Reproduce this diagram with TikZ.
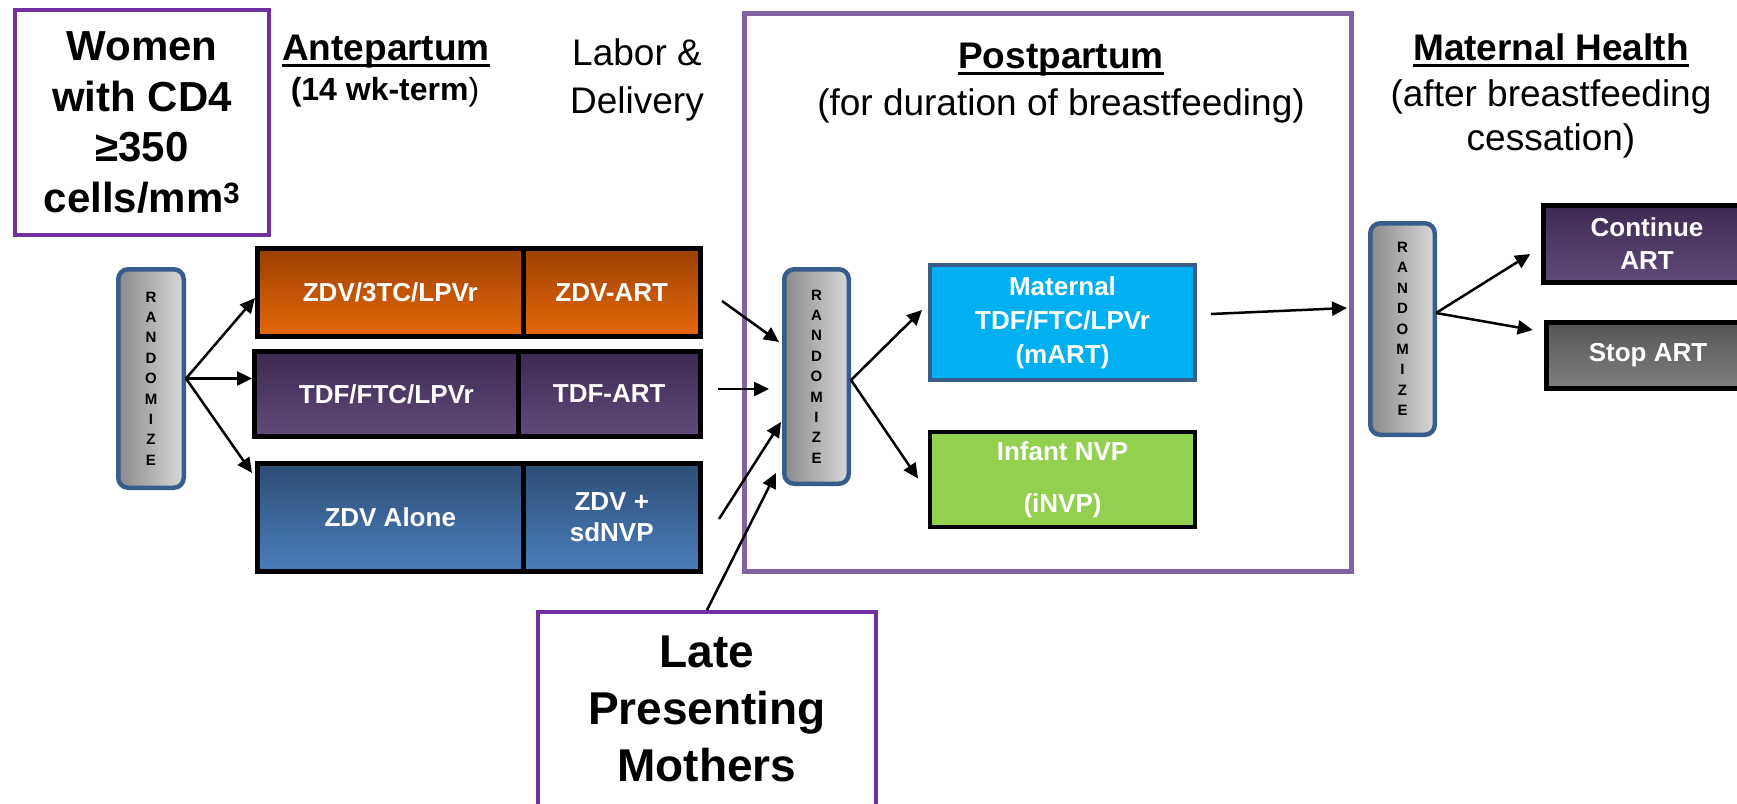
\documentclass[tikz,border=0pt]{standalone}
\usepackage{fontspec}
\setmainfont{Liberation Sans}
\usetikzlibrary{arrows.meta,calc}
\definecolor{womenpurple}{HTML}{7030A0}
\definecolor{pppurple}{HTML}{8064A2}
\definecolor{randblue}{HTML}{385D8A}
\definecolor{orangetop}{HTML}{9A3F00}
\definecolor{orangebot}{HTML}{E8690A}
\definecolor{purtop}{HTML}{3D2A52}
\definecolor{purbot}{HTML}{604A7B}
\definecolor{bluetop}{HTML}{2C4D75}
\definecolor{bluebot}{HTML}{4A7EBC}
\definecolor{cyanfill}{HTML}{00B0F0}
\definecolor{greenfill}{HTML}{92D050}
\definecolor{graytop}{HTML}{555555}
\definecolor{graybot}{HTML}{808080}
\definecolor{randL}{HTML}{8A8A8A}
\definecolor{randR}{HTML}{D8D8D8}
\newcommand\hdrul[1]{\setbox0\hbox{#1}\rlap{\rule[-6.5pt]{\wd0}{2.6pt}}\box0}
\begin{document}
\begin{tikzpicture}[x=1pt,y=-1pt,
  every node/.style={inner sep=0pt},
  rnd/.style={draw=randblue, line width=4.5pt, rounded corners=10pt,
    left color=randL, right color=randR, text=black, align=center,
    font=\fontsize{15}{20.4}\selectfont\bfseries},
  cell/.style={draw=black, line width=5pt, text=white, align=center,
    font=\fontsize{26}{31}\selectfont\bfseries},
  orangecell/.style={cell, top color=orangetop, bottom color=orangebot},
  purplecell/.style={cell, top color=purtop, bottom color=purbot},
  bluecell/.style={cell, top color=bluetop, bottom color=bluebot},
  framebox/.style={draw=womenpurple, line width=4pt, fill=white},
  hdr/.style={font=\fontsize{37}{41}\selectfont\bfseries},
  sub/.style={font=\fontsize{37}{41}\selectfont, align=center},
  arr/.style={-{Triangle[length=15pt,width=14pt]}, line width=2.5pt, black}]
\useasboundingbox[fill=white] (0,0) rectangle (1737,803);

% postpartum frame
\node[draw=pppurple, line width=5pt, minimum width=607pt, minimum height=558pt] (pp) at (1048,292.5) {};

% women box
\node[framebox, minimum width=254pt, minimum height=225pt, align=center,
  font=\fontsize{42}{50.7}\selectfont\bfseries] (women) at (142,122.5)
  {Women\\with CD4\\≥350\\cells/mm\textsuperscript{3}};

% headers
\node[hdr, anchor=base] (ante) at (386,60) {\hdrul{Antepartum}};
\node[anchor=base, font=\fontsize{32}{36}\selectfont] (antesub) at (385,100) {\textbf{(14 wk-term}\mdseries)};
\node[sub, font=\fontsize{37}{48}\selectfont] (labor) at (637,80) {Labor \&\\Delivery};
\node[hdr, anchor=base] (post) at (1061,68) {\hdrul{Postpartum}};
\node[sub, anchor=base] (postsub) at (1061,115) {(for duration of breastfeeding)};
\node[hdr, anchor=base] (mh) at (1551,60) {\hdrul{Maternal Health}};
\node[sub, font=\fontsize{37}{44}\selectfont] (mhsub) at (1551,119) {(after breastfeeding\\cessation)};

% randomize nodes
\node[rnd, minimum width=65.5pt, minimum height=218.5pt] (R1) at (151,378.5) {R\\A\\N\\D\\O\\M\\I\\Z\\E};
\node[rnd, minimum width=64.5pt, minimum height=214.5pt] (R2) at (816.5,376.5) {R\\A\\N\\D\\O\\M\\I\\Z\\E};
\node[rnd, minimum width=64.5pt, minimum height=211.5pt] (R3) at (1402.5,329) {R\\A\\N\\D\\O\\M\\I\\Z\\E};

% antepartum rows
\node[orangecell, minimum width=265.5pt, minimum height=88pt] (ol) at (390.25,292.5) {ZDV/3TC/LPVr};
\node[orangecell, minimum width=177.5pt, minimum height=88pt] (or) at (611.75,292.5) {ZDV-ART};
\node[purplecell, minimum width=263.5pt, minimum height=85pt] (pl) at (386.25,394) {TDF/FTC/LPVr};
\node[purplecell, minimum width=182.5pt, minimum height=85pt] (pr) at (609.25,394) {TDF-ART};
\node[bluecell, minimum width=265.5pt, minimum height=108pt] (bl) at (390.25,517.5) {ZDV Alone};
\node[bluecell, minimum width=177.5pt, minimum height=108pt] (br) at (611.75,517.5) {ZDV +\\sdNVP};

% postpartum arms
\node[cell, draw=randblue, line width=4pt, fill=cyanfill, minimum width=265pt, minimum height=115pt,
  font=\fontsize{26}{34}\selectfont\bfseries] (mat) at (1062.5,322.5) {Maternal\\TDF/FTC/LPVr\\(mART)};
\node[cell, line width=4pt, fill=greenfill, minimum width=265pt, minimum height=95pt,
  font=\fontsize{26}{52}\selectfont\bfseries] (inf) at (1062.5,479.5) {Infant NVP\\(iNVP)};

% maternal health arms
\node[purplecell, minimum width=206.5pt, minimum height=77pt, font=\fontsize{26}{33}\selectfont\bfseries] (cont) at (1647,244) {Continue\\ART};
\node[cell, top color=graytop, bottom color=graybot, minimum width=203.5pt, minimum height=66pt] (stop) at (1648,355.5) {Stop ART};

% late presenting mothers
\node[framebox, minimum width=338pt, minimum height=238pt] (late) at (707,731) {};
\node[align=center, font=\fontsize{46}{57}\selectfont\bfseries] (latetxt) at (707,709) {Late\\Presenting\\Mothers};

% arrows
\draw[arr] (R1.east) -- ($(ol.west)+(0,5.5)$);
\draw[arr] (R1.east) -- (R1.east -| pl.west);
\draw[arr] (R1.east) -- ($(bl.north west)+(-3,12)$);
\draw[arr] ($(or.east)+(19,8.5)$) -- ($(R2.west)+(-3,-34.5)$);
\draw[arr] ($(pr.east)+(15,-5)$) -- ($(R2.west)+(-13,12.5)$);
\draw[arr] ($(br.east)+(16,1.5)$) -- ($(R2.west)+(-1,45.5)$);
\draw[arr] (late.north) -- ($(R2.south west)+(-6,-13)$);
\draw[arr] ($(R2.east)+(0,3.5)$) -- ($(mat.west)+(-6,-12.5)$);
\draw[arr] ($(R2.east)+(0,3.5)$) -- ($(inf.west)+(-10,-1)$);
\draw[arr] ($(mat.east)+(14,-8.5)$) -- ($(pp.east)+(-7,15.5)$);
\draw[arr] ($(R3.east)+(-1,-16)$) -- ($(cont.west)+(-11,10)$);
\draw[arr] ($(R3.east)+(-1,-16)$) -- ($(stop.west)+(-11,-25.5)$);
\end{tikzpicture}
\end{document}
